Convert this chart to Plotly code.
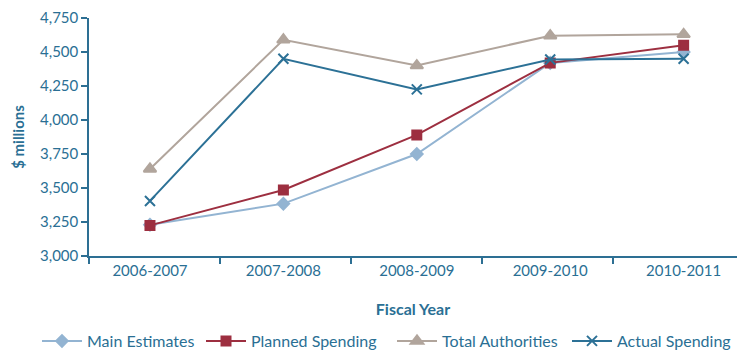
import plotly.graph_objects as go

categories = ["2006-2007", "2007-2008", "2008-2009", "2009-2010", "2010-2011"]
main_estimates = [3230, 3385, 3750, 4420, 4500]
planned_spending = [3225, 3485, 3890, 4420, 4550]
total_authorities = [3640, 4590, 4400, 4620, 4630]
actual_spending = [3405, 4450, 4225, 4445, 4450]
y_ticks = [3000, 3250, 3500, 3750, 4000, 4250, 4500, 4750]

TEXT = "#2a6f94"
AXIS = "#2d6f93"
FONT = "Lato"
W, H = 737, 350

xs = list(range(len(categories)))
series = [
    ("Main Estimates", main_estimates, "#93b4d2", "diamond", 9, "legend", 43),
    ("Planned Spending", planned_spending, "#9d2f40", "square", 9, "legend2", 207),
    ("Total Authorities", total_authorities, "#b1a59c", "triangle-up", 11, "legend3", 398),
    ("Actual Spending", actual_spending, "#2c7196", "x-thin-open", 10, "legend4", 573),
]

fig = go.Figure()
legends = {}
for name, vals, col, sym, sz, lg, lx in series:
    fig.add_trace(go.Scatter(
        x=xs, y=vals, name=name, mode="lines+markers", legend=lg,
        line=dict(color=col, width=2),
        marker=dict(symbol=sym, size=sz, color=col, line=dict(color=col, width=2)),
    ))
    legends[lg] = dict(orientation="h", x=(lx - 6) / W, xanchor="left", xref="container",
                       y=(H - 341) / H, yanchor="middle", yref="container",
                       font=dict(size=16, color=TEXT), itemwidth=40,
                       bgcolor="rgba(0,0,0,0)", borderwidth=0)

# boundary ticks axis
fig.add_trace(go.Scatter(x=[0], y=[3000], xaxis="x2", showlegend=False,
                         mode="markers", marker=dict(opacity=0), hoverinfo="skip"))

xr = [-0.457, 4.4]
fig.update_layout(
    width=W, height=H,
    margin=dict(l=89, r=0, t=18, b=94),
    paper_bgcolor="white", plot_bgcolor="white",
    font=dict(family=FONT, color=TEXT, size=14),
    showlegend=True,
    **legends,
    xaxis=dict(range=xr, tickvals=xs, ticktext=categories, ticks="", automargin=False,
               showgrid=False, zeroline=False, showline=True, linecolor=AXIS, linewidth=1.5,
               tickfont=dict(size=15, color=TEXT),
               title=dict(text="<b>Fiscal Year</b>", font=dict(size=16, color=TEXT), standoff=26)),
    xaxis2=dict(range=xr, overlaying="x", side="bottom", automargin=False,
                tickvals=[-0.457, 0.524, 1.506, 2.487, 3.468], ticktext=[""] * 5,
                ticks="outside", ticklen=7, tickcolor=AXIS, tickwidth=1.5,
                showgrid=False, zeroline=False, showline=False),
    yaxis=dict(range=[3000, 4750], tickvals=y_ticks, automargin=False,
               ticktext=[f"{v:,}" for v in y_ticks], ticks="outside", ticklen=6,
               tickcolor=AXIS, tickwidth=1.5, showgrid=False, zeroline=False,
               showline=True, linecolor=AXIS, linewidth=1.5,
               tickfont=dict(size=15, color=TEXT),
               title=dict(text="<b>$ millions</b>", font=dict(size=15, color=TEXT), standoff=12)),
)

fig.write_html("out.html", config={"displayModeBar": False},
               post_script="document.body.style.margin='0px';")
